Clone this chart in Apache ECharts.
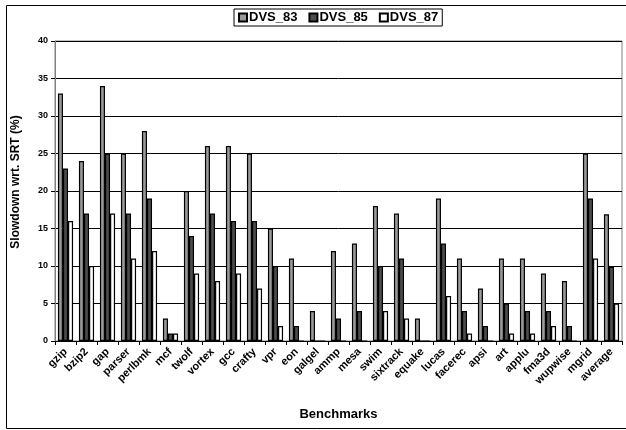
<!DOCTYPE html>
<html>
<head>
<meta charset="utf-8">
<script src="https://cdn.jsdelivr.net/npm/echarts@6/dist/echarts.min.js"></script>
<style>
  html, body { margin: 0; padding: 0; background: #fff; }
  #chart { width: 626px; height: 430px; }
</style>
</head>
<body>
<div id="chart"></div>
<script>
// Benchmarks along the x axis
const benchmarks = ['gzip', 'bzip2', 'gap', 'parser', 'perlbmk', 'mcf', 'twolf', 'vortex', 'gcc',
  'crafty', 'vpr', 'eon', 'galgel', 'ammp', 'mesa', 'swim', 'sixtrack', 'equake', 'lucas',
  'facerec', 'apsi', 'art', 'applu', 'fma3d', 'wupwise', 'mgrid', 'average'];

// Slowdown (%) for each voltage setting
const dvs83 = [33, 24, 34, 25, 28, 3, 20, 26, 26, 25, 15, 11, 4, 12, 13, 18, 17, 3, 19, 11, 7, 11, 11, 9, 8, 25, 16.9];
const dvs85 = [23, 17, 25, 17, 19, 1, 14, 17, 16, 16, 10, 2, 0, 3, 4, 10, 11, 0, 13, 4, 2, 5, 4, 4, 2, 19, 9.9];
const dvs87 = [16, 10, 17, 11, 12, 1, 9, 8, 9, 7, 2, 0, 0, 0, 0, 4, 3, 0, 6, 1, 0, 1, 1, 2, 0, 11, 5];

const yTicks = [0, 5, 10, 15, 20, 25, 30, 35, 40];

const font = 'Liberation Sans, Arial, sans-serif';

function barSeries(name, data, fill) {
  return {
    name: name,
    type: 'bar',
    data: data,
    barGap: '0%',
    barCategoryGap: '28%',
    itemStyle: { color: fill, borderColor: '#000', borderWidth: 1.2 },
    emphasis: { disabled: true },
    animation: false
  };
}

const chart = echarts.init(document.getElementById('chart'));
chart.setOption({
  animation: false,
  backgroundColor: '#fff',
  textStyle: { fontFamily: font },
  graphic: [{
    type: 'rect',
    left: 4, top: 3,
    shape: { width: 640, height: 423 },
    style: { fill: 'none', stroke: '#000', lineWidth: 1 },
    silent: true
  }],
  legend: {
    top: 9,
    left: 234,
    itemWidth: 8,
    itemHeight: 8,
    itemGap: 11,
    padding: [2, 4, 2, 4],
    borderColor: '#000',
    borderWidth: 1,
    icon: 'rect',
    textStyle: { fontFamily: font, fontWeight: 'bold', fontSize: 13, color: '#000', padding: [0, 0, 0, -3] },
    data: ['DVS_83', 'DVS_85', 'DVS_87']
  },
  grid: {
    left: 55, right: 4, top: 41, bottom: 89,
    show: true,
    borderColor: '#808080',
    borderWidth: 1,
    backgroundColor: '#fff'
  },
  xAxis: {
    type: 'category',
    data: benchmarks,
    name: 'Benchmarks',
    nameLocation: 'middle',
    nameGap: 67,
    nameTextStyle: { fontFamily: font, fontWeight: 'bold', fontSize: 13, color: '#000' },
    axisLine: { lineStyle: { color: '#000', width: 1 } },
    axisTick: { show: true, alignWithLabel: false, length: 4, lineStyle: { color: '#000' } },
    axisLabel: {
      interval: 0,
      rotate: 45,
      margin: 9,
      fontFamily: font,
      fontWeight: 'bold',
      fontSize: 11,
      color: '#000'
    },
    splitLine: { show: false }
  },
  yAxis: {
    type: 'value',
    min: yTicks[0],
    max: yTicks[yTicks.length - 1],
    interval: 5,
    name: 'Slowdown wrt. SRT (%)',
    nameLocation: 'middle',
    nameGap: 33,
    nameTextStyle: { fontFamily: font, fontWeight: 'bold', fontSize: 12, color: '#000', padding: [0, 0, 0, 18] },
    axisLine: { show: true, lineStyle: { color: '#808080', width: 1 } },
    axisTick: { show: true, length: 4, lineStyle: { color: '#000' } },
    axisLabel: {
      margin: 7,
      fontFamily: font,
      fontWeight: 'bold',
      fontSize: 9,
      color: '#000'
    },
    splitLine: { show: true, lineStyle: { color: '#000', width: 1 } }
  },
  series: [
    barSeries('DVS_83', dvs83, '#999999'),
    barSeries('DVS_85', dvs85, '#4d4d4d'),
    barSeries('DVS_87', dvs87, '#ffffff')
  ]
});
</script>
</body>
</html>
